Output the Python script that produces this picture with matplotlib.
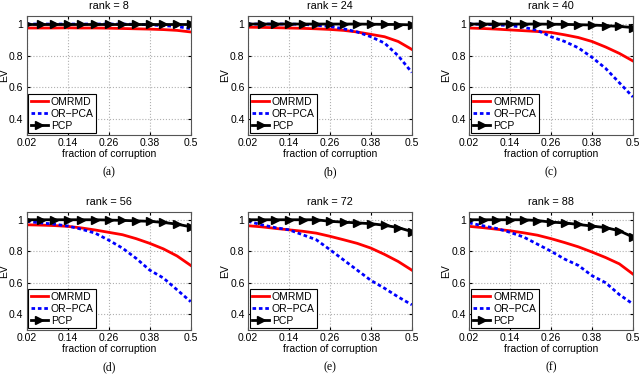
import matplotlib
matplotlib.use('Agg')
import matplotlib.pyplot as plt
import numpy as np

plt.rcParams['font.family'] = ['Liberation Sans', 'DejaVu Sans']

ranks = [8, 24, 40, 56, 72, 88]
captions = ['(a)', '(b)', '(c)', '(d)', '(e)', '(f)']
fractions = [0.02, 0.06, 0.10, 0.14, 0.18, 0.22, 0.26, 0.30, 0.34, 0.38, 0.42, 0.46, 0.50]
xticks = [0.02, 0.14, 0.26, 0.38, 0.5]
xtick_labels = ['0.02', '0.14', '0.26', '0.38', '0.5']
yticks = [0.4, 0.6, 0.8, 1.0]
ytick_labels = ['0.4', '0.6', '0.8', '1']

omrmd = [
    [0.975, 0.975, 0.975, 0.976, 0.975, 0.975, 0.974, 0.972, 0.970, 0.968, 0.965, 0.960, 0.950],
    [0.980, 0.979, 0.977, 0.975, 0.973, 0.970, 0.966, 0.960, 0.950, 0.935, 0.920, 0.890, 0.840],
    [0.975, 0.972, 0.968, 0.963, 0.958, 0.953, 0.947, 0.932, 0.915, 0.890, 0.855, 0.815, 0.767],
    [0.968, 0.966, 0.963, 0.958, 0.948, 0.935, 0.920, 0.905, 0.880, 0.850, 0.815, 0.770, 0.710],
    [0.962, 0.955, 0.945, 0.936, 0.927, 0.915, 0.895, 0.873, 0.850, 0.820, 0.780, 0.735, 0.680],
    [0.958, 0.950, 0.940, 0.930, 0.917, 0.902, 0.880, 0.855, 0.828, 0.795, 0.760, 0.720, 0.655],
]
orpca = [
    [1.000, 1.000, 1.000, 1.000, 1.000, 1.000, 1.000, 1.000, 0.998, 0.995, 0.990, 0.985, 0.970],
    [1.000, 1.000, 1.000, 1.000, 0.998, 0.992, 0.985, 0.970, 0.950, 0.920, 0.880, 0.800, 0.695],
    [1.000, 0.998, 0.995, 0.990, 0.980, 0.960, 0.920, 0.890, 0.850, 0.790, 0.720, 0.630, 0.540],
    [0.990, 0.980, 0.972, 0.960, 0.940, 0.915, 0.870, 0.820, 0.755, 0.680, 0.630, 0.555, 0.480],
    [0.990, 0.968, 0.950, 0.936, 0.905, 0.873, 0.810, 0.745, 0.680, 0.615, 0.565, 0.510, 0.460],
    [0.980, 0.962, 0.945, 0.920, 0.890, 0.845, 0.800, 0.750, 0.710, 0.645, 0.600, 0.525, 0.465],
]
pcp = [
    [1.000, 1.000, 1.000, 1.000, 1.000, 1.000, 1.000, 1.000, 1.000, 1.000, 1.000, 1.000, 1.000],
    [1.000, 1.000, 1.000, 1.000, 1.000, 1.000, 1.000, 1.000, 1.000, 0.999, 0.998, 0.997, 0.995],
    [1.000, 1.000, 1.000, 1.000, 1.000, 1.000, 0.999, 0.998, 0.996, 0.994, 0.990, 0.985, 0.978],
    [1.000, 1.000, 1.000, 1.000, 1.000, 1.000, 0.998, 0.996, 0.993, 0.990, 0.983, 0.972, 0.955],
    [1.000, 1.000, 1.000, 1.000, 1.000, 1.000, 0.990, 0.985, 0.980, 0.975, 0.965, 0.950, 0.925],
    [1.000, 1.000, 1.000, 1.000, 1.000, 0.995, 0.985, 0.980, 0.970, 0.960, 0.950, 0.930, 0.890],
]

fig = plt.figure(figsize=(6.4, 3.75), dpi=100)

lefts = [0.042, 0.3875, 0.733]
bottoms = [0.64, 0.12]
heights = [0.317, 0.315]
width = 0.256
cap_y = [0.541, 0.02]

for i in range(6):
    row, col = divmod(i, 3)
    ax = fig.add_axes([lefts[col], bottoms[row], width, heights[row]])
    ax.plot(fractions, omrmd[i], color='red', lw=2, label='OMRMD')
    ax.plot(fractions, orpca[i], color='blue', lw=2, ls=(0, (1.3, 1.0)), label='OR\u2212PCA')
    ax.plot(fractions, pcp[i], color='black', lw=2, marker='>', ms=5.5, label='PCP')
    ax.set_xlim(0.02, 0.5)
    ax.set_ylim(0.3, 1.05)
    ax.set_xticks(xticks)
    ax.set_xticklabels(xtick_labels)
    ax.set_yticks(yticks)
    ax.set_yticklabels(ytick_labels)
    ax.tick_params(labelsize=7.5, length=2.5, direction='in', pad=2.5, top=True, right=True)
    ax.grid(True, ls=':', color='#b0b0b0', lw=0.8)
    for s in ax.spines.values():
        s.set_color('#555555')
        s.set_linewidth(0.8)
    ax.set_title(f'rank = {ranks[i]}', fontsize=7.8, pad=5)
    ax.set_xlabel('fraction of corruption', fontsize=7.5, labelpad=0.5)
    ax.set_ylabel('EV', fontsize=7.5, labelpad=0)
    leg = ax.legend(loc='lower left', fontsize=7.5, handlelength=1.6, handletextpad=0.3,
                    borderpad=0.25, labelspacing=0.2, borderaxespad=0.15,
                    fancybox=False, framealpha=1, edgecolor='black')
    leg.get_frame().set_linewidth(0.8)
    fig.text(lefts[col] + width / 2, cap_y[row], captions[i], ha='center', va='center',
             fontsize=8.5, family=['Liberation Serif', 'DejaVu Serif'])

fig.savefig('out.png', dpi=100)
